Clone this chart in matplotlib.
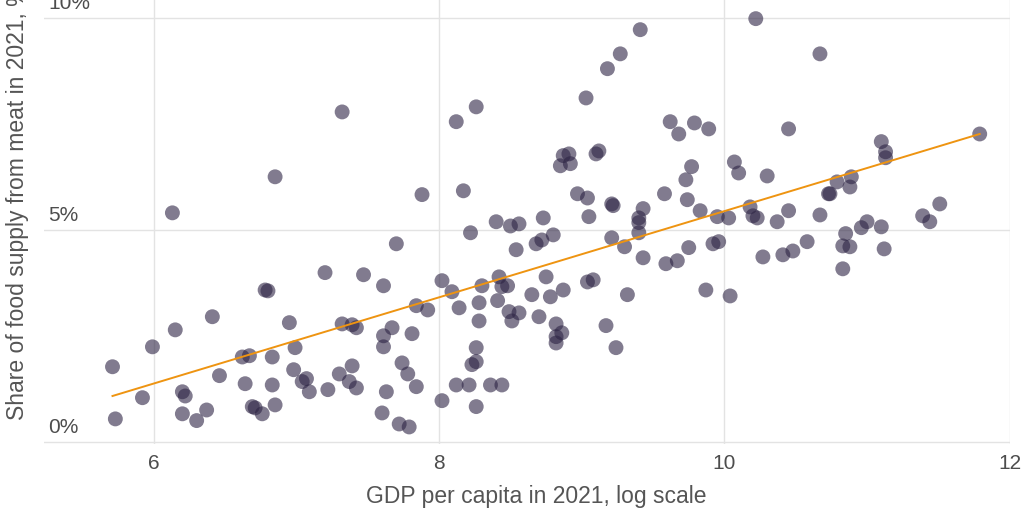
import numpy as np
import matplotlib.pyplot as plt

plt.rcParams['font.family'] = ['Liberation Sans', 'DejaVu Sans']

# GDP per capita (log scale) and share of food supply from meat (%)
gdp_log = [
    5.71, 5.73, 5.92, 5.99, 6.13, 6.15, 6.20, 6.22, 6.20, 6.30,
    6.37, 6.41, 6.46, 6.62, 6.67, 6.64, 6.69, 6.71, 6.76, 6.78,
    6.80, 6.83, 6.83, 6.85, 6.85, 6.95, 6.99, 6.98, 7.04, 7.07,
    7.09, 7.20, 7.22, 7.30, 7.32, 7.32, 7.39, 7.42, 7.37, 7.42,
    7.39, 7.47, 7.61, 7.60, 7.61, 7.61, 7.63, 7.67, 7.70, 7.72,
    7.79, 7.74, 7.78, 7.81, 7.84, 7.84, 7.88, 7.92, 8.02, 8.02,
    8.09, 8.12, 8.12, 8.14, 8.17, 8.21, 8.22, 8.23, 8.26, 8.26,
    8.26, 8.28, 8.26, 8.28, 8.30, 8.36, 8.44, 8.40, 8.42, 8.41,
    8.44, 8.48, 8.49, 8.56, 8.51, 8.50, 8.56, 8.54, 8.65, 8.68,
    8.72, 8.70, 8.73, 8.75, 8.78, 8.80, 8.82, 8.86, 8.82, 8.82,
    8.85, 8.92, 8.87, 8.91, 8.87, 8.97, 9.04, 9.03, 9.04, 9.08,
    9.05, 9.10, 9.12, 9.17, 9.18, 9.21, 9.22, 9.21, 9.24, 9.27,
    9.30, 9.32, 9.40, 9.40, 9.40, 9.43, 9.41, 9.43, 9.58, 9.59,
    9.67, 9.62, 9.68, 9.73, 9.74, 9.75, 9.77, 9.79, 9.83, 9.87,
    9.89, 9.92, 9.96, 9.95, 10.03, 10.04, 10.07, 10.10, 10.18, 10.20,
    10.23, 10.22, 10.27, 10.30, 10.37, 10.41, 10.48, 10.45, 10.45, 10.58,
    10.67, 10.67, 10.73, 10.74, 10.79, 10.83, 10.83, 10.85, 10.88, 10.89,
    10.88, 10.96, 11.00, 11.10, 11.10, 11.13, 11.13, 11.12, 11.39, 11.44,
    11.51, 11.79,
]
meat_share = [
    1.77, 0.54, 1.04, 2.24, 5.40, 2.64, 1.18, 1.08, 0.66, 0.50,
    0.75, 2.95, 1.56, 2.00, 2.03, 1.37, 0.83, 0.80, 0.66, 3.58,
    3.56, 2.00, 1.34, 0.87, 6.25, 2.81, 2.22, 1.70, 1.42, 1.49,
    1.18, 3.99, 1.23, 1.60, 7.78, 2.78, 2.76, 2.69, 1.42, 1.27,
    1.79, 3.94, 3.68, 0.68, 2.50, 2.24, 1.18, 2.69, 4.67, 0.42,
    0.35, 1.86, 1.60, 2.55, 1.30, 3.21, 5.83, 3.11, 3.80, 0.97,
    3.54, 7.55, 1.34, 3.16, 5.92, 1.34, 4.93, 1.82, 1.89, 2.22,
    7.90, 2.85, 0.83, 3.28, 3.68, 1.34, 1.34, 5.19, 3.89, 3.33,
    3.66, 3.68, 3.07, 3.04, 2.85, 5.09, 5.14, 4.53, 3.47, 4.67,
    4.76, 2.95, 5.28, 3.89, 3.42, 4.88, 2.78, 2.57, 2.48, 2.33,
    6.51, 6.56, 6.75, 6.79, 3.58, 5.85, 5.75, 8.11, 3.77, 3.82,
    5.31, 6.79, 6.86, 2.74, 8.80, 5.61, 5.57, 4.81, 2.22, 9.15,
    4.60, 3.47, 5.28, 5.17, 4.93, 5.50, 9.72, 4.34, 5.85, 4.20,
    4.27, 7.55, 7.26, 6.18, 5.71, 4.58, 6.49, 7.52, 5.45, 3.58,
    7.38, 4.67, 4.72, 5.31, 5.28, 3.44, 6.60, 6.34, 5.54, 5.33,
    5.28, 9.98, 4.36, 6.27, 5.19, 4.41, 4.50, 7.38, 5.45, 4.72,
    9.15, 5.35, 5.85, 5.85, 6.13, 4.62, 4.08, 4.91, 4.60, 6.25,
    6.01, 5.05, 5.19, 5.07, 7.08, 6.84, 6.70, 4.55, 5.33, 5.19,
    5.61, 7.26,
]

# trend line end points
trend_x = [5.71, 11.79]
trend_y = [1.08, 7.26]

x_ticks = [6, 8, 10, 12]
y_ticks = [0, 5, 10]

fig = plt.figure(figsize=(10.24, 5.12), dpi=100)
ax = fig.add_axes([0.043, 0.133, 0.943, 0.867])

ax.scatter(gdp_log, meat_share, s=115, color='#2d2444', alpha=0.6,
           edgecolors='none', zorder=3)
ax.plot(trend_x, trend_y, color='#ee9411', lw=1.4, zorder=4)

ax.set_xlim(5.23, 12.0)
ax.set_ylim(-0.05, 10.42)
ax.set_xticks(x_ticks)
ax.set_yticks(y_ticks)
ax.set_yticklabels([])
ax.grid(True, color='#e3e3e3', lw=1.0, zorder=0)
for s in ax.spines.values():
    s.set_visible(False)
ax.tick_params(axis='both', length=0, labelsize=15, colors='#4d4d4d')
ax.tick_params(axis='x', pad=7)

for v in y_ticks:
    ax.text(0.004, v + 0.12, f'{v}%', transform=ax.get_yaxis_transform(),
            ha='left', va='bottom', fontsize=15, color='#4d4d4d')

fig.text(536 / 1024, 1 - 497 / 512, 'GDP per capita in 2021, log scale',
         ha='center', va='center', fontsize=16.5, color='#555555')
fig.text(18 / 1024, 1 - 420 / 512, 'Share of food supply from meat in 2021, %',
         rotation=90, ha='center', va='bottom', fontsize=16.5, color='#555555')

fig.savefig('out.png', dpi=100)
